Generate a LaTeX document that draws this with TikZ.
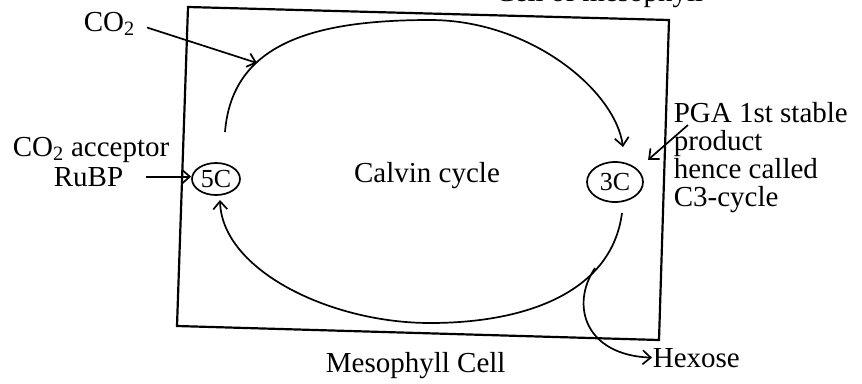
\documentclass[tikz,border=0pt]{standalone}
\usepackage{fontspec}
\setmainfont{Liberation Serif}
\usetikzlibrary{shapes.geometric,arrows.meta}

\begin{document}
\begin{tikzpicture}[
    x=1pt, y=-1pt,
    line width=1.7pt,
    lbl/.style={inner sep=0pt, font=\fontsize{29}{28}\selectfont},
    stage/.style={
        ellipse, draw, line width=1.7pt, inner sep=0pt,
        font=\fontsize{26}{26}\selectfont
    },
    arr/.style={-{Straight Barb[length=8pt,width=14pt]}},
    wall/.style={line width=2.2pt, line join=miter}
]
    \useasboundingbox (0,0) rectangle (862,383);

    % --- mesophyll cell ---
    \draw[wall] (188,7) -- (669,20) -- (659,340) -- (177,326) -- cycle;
    \node[lbl, anchor=base east] (top) at (704,1) {Cell of mesophyll};
    \node[lbl, anchor=base west] (cell) at (325,372) {Mesophyll Cell};

    % --- cycle ---
    \node[stage, minimum width=48pt, minimum height=32pt] (five) at (216,179) {5C};
    \node[stage, minimum width=56pt, minimum height=40pt] (three) at (615,182) {3C};
    \node[lbl, anchor=base] (calvin) at (427,182) {Calvin cycle};

    \coordinate (topstart) at (225,132);
    \coordinate (topend) at (623,147);
    \coordinate (botstart) at (622,213);
    \coordinate (botend) at (220,200);
    \coordinate (branch) at (595,268);

    \draw[arr] (topstart) .. controls (232,45) and (310,20) .. (430,20)
        .. controls (530,20) and (615,90) .. (topend);
    \draw[arr] (botstart) .. controls (612,290) and (530,323) .. (430,323)
        .. controls (330,323) and (222,270) .. (botend);

    % --- inputs and outputs ---
    \node[lbl, anchor=base west] (co2) at (83,31) {CO\textsubscript{2}};
    \coordinate (co2tip) at (257,63);
    \draw[arr, shorten <=12pt] (co2.east) -- (co2tip);

    \node[lbl, anchor=base west] (acceptor) at (12,156) {CO\textsubscript{2} acceptor};
    \node[lbl, anchor=base west] (rubp) at (53,186) {RuBP};
    \draw[arr, shorten <=22pt] (rubp.east) -- (rubp.east -| five.west);

    \node[lbl, anchor=north west, align=left] (pga) at (673,102)
        {PGA 1st stable\\product\\hence called\\C3-cycle};
    \coordinate (pgafrom) at (688,125);
    \draw[arr, shorten >=14pt] (pgafrom) -- (three.30);

    \node[lbl, anchor=base west] (hexose) at (652,367) {Hexose};
    \draw[arr] (branch) .. controls (570,305) and (585,355) .. (hexose.west);
\end{tikzpicture}
\end{document}
